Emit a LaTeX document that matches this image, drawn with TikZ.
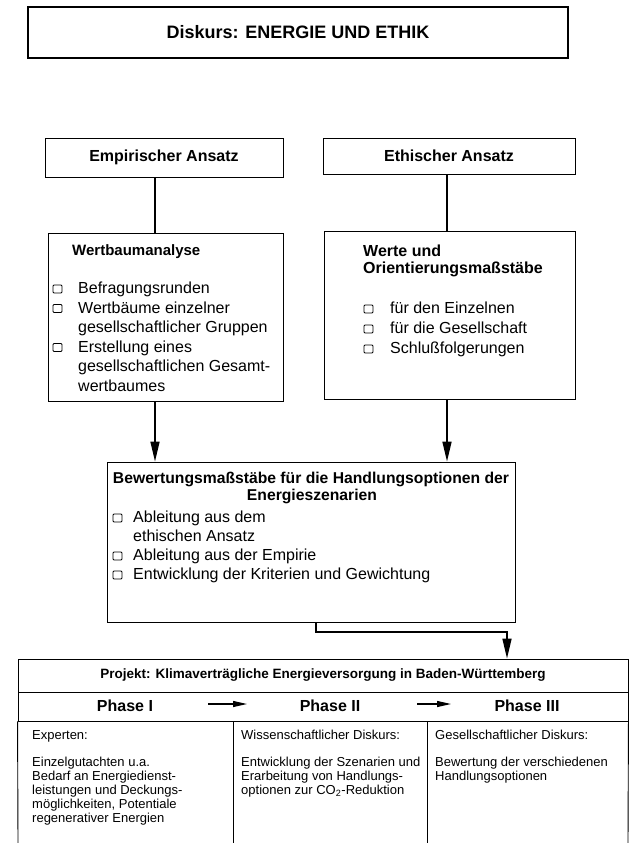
\documentclass[tikz,border=0pt]{standalone}
\usepackage{fontspec}
\setmainfont{Liberation Sans}
\usetikzlibrary{arrows.meta,calc}
\tikzset{
	rahmen/.style={draw, line width=0.9pt, inner sep=0pt},
	zeile/.style={anchor=base west, inner sep=0pt},
	mitte/.style={anchor=base, inner sep=0pt},
	fett/.style={font=\bfseries\fontsize{16}{19}\selectfont},
	klein/.style={font=\fontsize{13}{15}\selectfont},
	kaestchen/.style={line width=0.8pt, rounded corners=1pt},
	pfeil/.style={line width=1.6pt}
}
\begin{document}
\begin{tikzpicture}[x=1pt, y=-1pt, >={Triangle[length=20pt,width=9pt]}, line join=miter, font=\fontsize{16}{19}\selectfont]
	\useasboundingbox (0,0) rectangle (634,843);
	\path (155,0) coordinate (lx) (447,0) coordinate (rx) (316,0) coordinate (mx)
	(507,632) coordinate (knick)
	(208,704) coordinate (p1a) (247,704) coordinate (p1b)
	(417,704) coordinate (p2a) (451,704) coordinate (p2b);
	\node[rahmen, line width=1.6pt, minimum width=540pt, minimum height=51pt, font=\bfseries\fontsize{18}{22}\selectfont] (diskurs) at (298,32.5) {Diskurs: ENERGIE UND ETHIK};
	\node[rahmen, fett, minimum width=238pt, minimum height=39pt] (empirie) at (164,157.5) {Empirischer Ansatz};
	\node[rahmen, fett, minimum width=252pt, minimum height=36pt] (ethik) at (449,156) {Ethischer Ansatz};
	\node[rahmen, minimum width=235pt, minimum height=168pt] (wertbaum) at (165.5,317) {};
	\node[rahmen, minimum width=251pt, minimum height=168pt] (werte) at (449.5,315) {};
	\node[rahmen, minimum width=408pt, minimum height=160pt] (bewertung) at (311,542) {};
	\node[rahmen, minimum width=610pt, minimum height=33pt, font=\bfseries\fontsize{13.5}{16}\selectfont] (projekt) at (323,675.5) {Projekt: Klimaverträgliche Energieversorgung in Baden-Württemberg};
	\node[rahmen, minimum width=610pt, minimum height=29pt] (phasen) at (323,706.5) {};
	\draw[line width=0.9pt] (phasen.south west) -- (18,843) (phasen.south east) -- (628,843);
	\foreach \x in {233,427}{
		\draw[line width=0.9pt] (phasen.south -| \x,0) -- (\x,843);
	}
	% Wertbaumanalyse
	\node[zeile, font=\bfseries\fontsize{15}{18}\selectfont] (wbkopf) at (72,255) {Wertbaumanalyse};
	\foreach \y/\t [count=\i] in {293.5/Befragungsrunden, 313/Wertbäume einzelner, 332.5/gesellschaftlicher Gruppen, 352/Erstellung eines, 371.5/gesellschaftlichen Gesamt-, 391/wertbaumes}{
		\node[zeile] (wb\i) at (78,\y) {\t};
	}
	\foreach \y in {293.5,313,352}{
		\draw[kaestchen] (53,\y-0.5) rectangle ++(9,-8);
	}
	% Werte
	\foreach \y/\t [count=\i] in {256.5/Werte und, 273.5/Orientierungsmaßstäbe}{
		\node[zeile, fett] (wkopf\i) at (363,\y) {\t};
	}
	\foreach \y/\t [count=\i] in {313.5/für den Einzelnen, 333.5/für die Gesellschaft, 353.5/Schlußfolgerungen}{
		\node[zeile] (we\i) at (390,\y) {\t};
		\draw[kaestchen] (364,\y-0.5) rectangle ++(9,-8);
	}
	% Bewertung
	\node[mitte, font=\bfseries\fontsize{15.7}{19}\selectfont] (bwkopf1) at (311,483.5) {Bewertungsmaßstäbe für die Handlungsoptionen der};
	\node[mitte, font=\bfseries\fontsize{15.7}{19}\selectfont] (bwkopf2) at (312,500.5) {Energieszenarien};
	\foreach \y/\t [count=\i] in {522.5/Ableitung aus dem, 541.5/ethischen Ansatz, 560.5/Ableitung aus der Empirie, 579.5/Entwicklung der Kriterien und Gewichtung}{
		\node[zeile] (bw\i) at (133,\y) {\t};
	}
	\foreach \y in {522.5,560.5,579.5}{
		\draw[kaestchen] (113,\y-0.5) rectangle ++(9,-8);
	}
	% Verbindungen
	\draw[pfeil] (empirie.south -| lx) -- (wertbaum.north -| lx) (ethik.south -| rx) -- (werte.north -| rx);
	\draw[pfeil, ->] (wertbaum.south -| lx) -- (bewertung.north -| lx);
	\draw[pfeil, ->] (werte.south -| rx) -- (bewertung.north -| rx);
	\draw[pfeil, ->] (bewertung.south -| mx) |- (knick) -- (projekt.north -| knick);
	% Phasen
	\foreach \x/\t [count=\i] in {125/Phase I, 330/Phase II, 527/Phase III}{
		\node[mitte, fett] (phase\i) at (\x,711.5) {\t};
	}
	\draw[line width=1.2pt, -{Triangle[length=14pt,width=6pt]}] (p1a) -- (p1b);
	\draw[line width=1.2pt, -{Triangle[length=14pt,width=6pt]}] (p2a) -- (p2b);
	\foreach \x/\t [count=\i] in {32/Experten:, 241/Wissenschaftlicher Diskurs:, 435/Gesellschaftlicher Diskurs:}{
		\node[zeile, klein] (kopf\i) at (\x,739.5) {\t};
	}
	\foreach \y/\t [count=\i] in {766.5/Einzelgutachten u.a., 780.5/Bedarf an Energiedienst-, 794.5/leistungen und Deckungs-, 808.5/{möglichkeiten, Potentiale}, 822.5/regenerativer Energien}{
		\node[zeile, klein] (ea\i) at (32,\y) {\t};
	}
	\foreach \y/\t [count=\i] in {766.5/Entwicklung der Szenarien und, 780.5/Erarbeitung von Handlungs-, 794.5/optionen zur CO\textsubscript{2}-Reduktion}{
		\node[zeile, klein] (wd\i) at (241,\y) {\t};
	}
	\foreach \y/\t [count=\i] in {766.5/Bewertung der verschiedenen, 780.5/Handlungsoptionen}{
		\node[zeile, klein] (gd\i) at (435,\y) {\t};
	}
\end{tikzpicture}
\end{document}
